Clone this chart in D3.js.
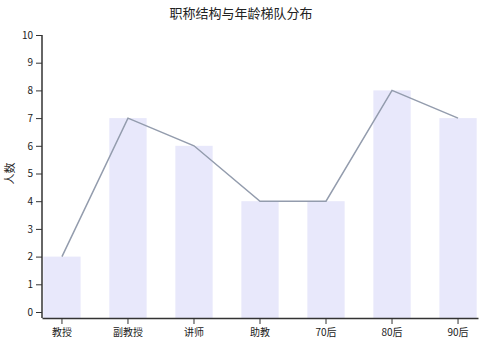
<!DOCTYPE html>
<html>
<head>
<meta charset="utf-8">
<script src="https://cdn.jsdelivr.net/npm/d3@7"></script>
<style>
  body { margin: 0; background: #fff; }
  #chart { width: 482px; height: 342px; }
  .axis text { font-family: "Noto Sans CJK SC", "Noto Sans", sans-serif; font-size: 10px; fill: #222; }
  .axis path, .axis line { stroke: #333; }
</style>
</head>
<body>
<div id="chart"></div>
<script>
// categories and counts
const categories = ["教授", "副教授", "讲师", "助教", "70后", "80后", "90后"];
const counts = [2, 7, 6, 4, 4, 8, 7];
const yTicks = [0, 1, 2, 3, 4, 5, 6, 7, 8, 9, 10];

const margin = {top: 35, right: 4, bottom: 24, left: 42};
const width = 482 - margin.left - margin.right;
const height = 342 - margin.top - margin.bottom;

const svg = d3.select("#chart").append("svg")
    .attr("width", 482)
    .attr("height", 342)
    .append("g")
    .attr("transform", `translate(${margin.left},${margin.top})`);

const xScale = d3.scaleBand()
    .domain(categories)
    .range([0, width])
    .paddingInner(0.435)
    .paddingOuter(0.02);

// y=0 sits a little above the x axis line
const yScale = d3.scaleLinear()
    .domain([0, 10])
    .range([height - 6, 0]);

// bars
svg.selectAll(".bar")
    .data(counts)
    .enter()
    .append("rect")
    .attr("class", "bar")
    .attr("x", (d, i) => xScale(categories[i]))
    .attr("y", d => yScale(d))
    .attr("width", xScale.bandwidth())
    .attr("height", d => height - yScale(d))
    .attr("fill", "#e8e8fb");

// line
const line = d3.line()
    .x((d, i) => xScale(categories[i]) + xScale.bandwidth() / 2)
    .y(d => yScale(d));

svg.append("path")
    .datum(counts)
    .attr("d", line)
    .attr("fill", "none")
    .attr("stroke", "#939cad")
    .attr("stroke-width", 1.5);

// axes
svg.append("g")
    .attr("class", "axis x-axis")
    .attr("transform", `translate(0,${height})`)
    .call(d3.axisBottom(xScale).tickSizeOuter(0).tickPadding(5))
    .call(g => g.select(".domain").attr("stroke-width", 1.5));

svg.append("g")
    .attr("class", "axis y-axis")
    .call(d3.axisLeft(yScale).tickValues(yTicks).tickSizeOuter(0))
    .call(g => g.select(".domain").attr("d", `M0,${yScale(10)}V${height}`).attr("stroke-width", 1.5));

// title
svg.append("text")
    .text("职称结构与年龄梯队分布")
    .attr("x", 241 - margin.left)
    .attr("y", -17)
    .attr("text-anchor", "middle")
    .style("font-family", "'Noto Sans CJK SC', sans-serif")
    .style("font-size", "13px")
    .attr("fill", "#222");

// y label
svg.append("text")
    .text("人数")
    .attr("transform", `translate(-28, ${yScale(5)}) rotate(-90)`)
    .attr("text-anchor", "middle")
    .style("font-family", "'Noto Sans CJK SC', sans-serif")
    .style("font-size", "11px")
    .attr("fill", "#222");
</script>
</body>
</html>
